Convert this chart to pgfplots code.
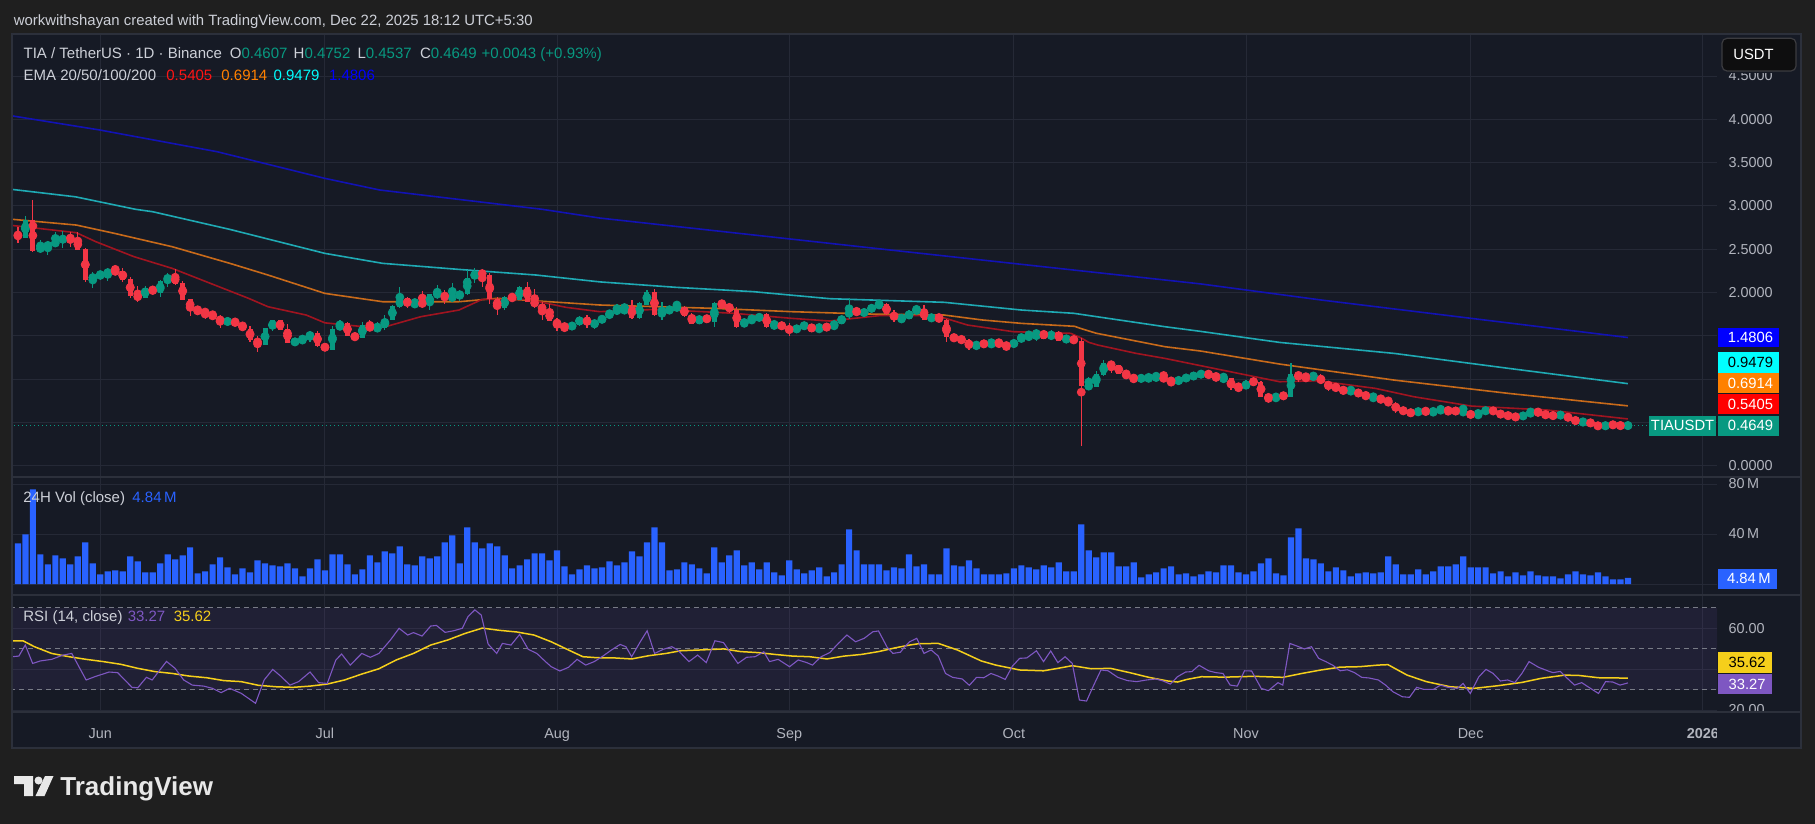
\documentclass[border=0pt]{standalone}
\usepackage{pgfplots}
\pgfplotsset{compat=1.18}
\usepackage{pgfplotstable}
\usepackage{fontspec}
\setmainfont{Liberation Sans}

\definecolor{outerbg}{HTML}{1F1F1F}
\definecolor{panebg}{HTML}{161A25}
\definecolor{gridc}{HTML}{252936}
\definecolor{sepc}{HTML}{2C303B}
\definecolor{txt}{HTML}{CDD0D8}
\definecolor{axtxt}{HTML}{B2B5BE}
\definecolor{up}{HTML}{089981}
\definecolor{down}{HTML}{F23645}
\definecolor{emaTw}{HTML}{A01420}
\definecolor{emaFi}{HTML}{C86A1A}
\definecolor{emaHu}{HTML}{1FAAB4}
\definecolor{emaTh}{HTML}{1212B4}
\definecolor{volc}{HTML}{2962FF}
\definecolor{rsic}{HTML}{7E57C2}
\definecolor{rsima}{HTML}{F5CF1B}
\definecolor{dashc}{HTML}{787B86}
\definecolor{logoc}{HTML}{E8E8E8}
\definecolor{tvred}{HTML}{FF0000}
\definecolor{tvredtxt}{HTML}{FF1414}
\definecolor{tvorange}{HTML}{FF8000}
\definecolor{tvcyan}{HTML}{00FFFF}
\definecolor{tvblue}{HTML}{0000FF}
\definecolor{usdtbg}{HTML}{0E0E0F}
\definecolor{usdtbd}{HTML}{3C3C40}

\newcommand\axfont{\fontsize{7.2}{8.6}\selectfont}
\newcommand\lgfont{\fontsize{7.5}{9}\selectfont}
\newcommand\hdfont{\fontsize{7.45}{9}\selectfont}
\newcommand\bxfont{\fontsize{7.4}{8.6}\selectfont}

% daily candles: day (0 = 1 Jun 2025), open, high, low, close, 24h volume in millions
\pgfplotstableread{
d o h l c v
-11 2.675 2.760 2.568 2.633 32.5
-10 2.633 2.883 2.633 2.837 39.7
-9 2.837 3.068 2.471 2.479 75.7
-8 2.479 2.606 2.471 2.537 23.7
-7 2.529 2.598 2.433 2.560 15.7
-6 2.548 2.702 2.548 2.595 22.9
-5 2.583 2.710 2.518 2.652 20.5
-4 2.652 2.695 2.529 2.606 15.7
-3 2.618 2.695 2.494 2.494 22.1
-2 2.502 2.518 2.125 2.144 33.3
-1 2.144 2.233 2.056 2.202 16.5
0 2.190 2.252 2.144 2.225 7.7
1 2.213 2.283 2.136 2.248 10.1
2 2.248 2.306 2.229 2.240 10.9
3 2.248 2.279 2.125 2.144 10.1
4 2.156 2.183 1.932 1.963 22.1
5 1.971 2.075 1.894 1.932 18.1
6 1.940 2.075 1.940 2.056 9.3
7 2.048 2.063 1.998 1.998 9.3
8 1.998 2.144 1.952 2.129 16.5
9 2.125 2.225 2.067 2.202 23.7
10 2.202 2.267 2.086 2.098 19.7
11 2.113 2.133 1.913 1.913 22.9
12 1.925 1.925 1.732 1.798 29.3
13 1.813 1.836 1.740 1.790 8.5
14 1.798 1.813 1.690 1.752 10.1
15 1.752 1.779 1.709 1.709 15.7
16 1.717 1.740 1.594 1.652 21.3
17 1.652 1.717 1.613 1.682 13.3
18 1.682 1.705 1.617 1.625 7.7
19 1.636 1.659 1.571 1.571 12.5
20 1.578 1.613 1.432 1.455 9.3
21 1.463 1.498 1.317 1.397 18.9
22 1.397 1.594 1.390 1.586 16.5
23 1.578 1.682 1.559 1.682 14.9
24 1.682 1.682 1.571 1.571 14.1
25 1.578 1.636 1.421 1.421 16.5
26 1.421 1.474 1.386 1.440 12.5
27 1.428 1.498 1.428 1.474 6.1
28 1.474 1.559 1.428 1.536 12.5
29 1.532 1.559 1.374 1.386 19.7
30 1.397 1.397 1.340 1.340 10.9
31 1.340 1.613 1.340 1.578 23.7
32 1.571 1.682 1.571 1.648 23.7
33 1.648 1.655 1.501 1.501 15.7
34 1.509 1.521 1.455 1.478 7.7
35 1.478 1.659 1.471 1.625 11.7
36 1.625 1.682 1.559 1.571 22.9
37 1.571 1.655 1.548 1.605 17.3
38 1.590 1.740 1.571 1.694 26.1
39 1.682 1.856 1.682 1.844 24.5
40 1.832 2.067 1.825 1.936 30.1
41 1.936 1.952 1.817 1.844 15.7
42 1.844 1.925 1.844 1.890 14.9
43 1.890 2.017 1.856 1.856 22.1
44 1.856 1.983 1.798 1.983 20.5
45 1.963 2.083 1.925 1.998 22.1
46 1.994 2.029 1.867 1.925 33.3
47 1.925 2.106 1.921 1.959 38.9
48 1.952 2.029 1.906 1.998 16.5
49 1.983 2.260 1.975 2.167 45.3
50 2.160 2.283 2.113 2.248 33.3
51 2.248 2.271 2.067 2.190 28.5
52 2.202 2.221 1.867 1.925 32.5
53 1.925 1.952 1.744 1.825 30.1
54 1.825 1.963 1.798 1.948 22.9
55 1.952 1.983 1.913 1.925 12.5
56 1.913 2.075 1.913 2.067 14.9
57 2.067 2.125 1.886 1.894 19.7
58 1.902 2.044 1.817 1.856 24.5
59 1.867 1.890 1.682 1.779 24.5
60 1.786 1.867 1.675 1.675 18.9
61 1.682 1.705 1.559 1.613 26.9
62 1.625 1.644 1.544 1.590 14.1
63 1.590 1.655 1.571 1.636 7.7
64 1.625 1.732 1.613 1.717 11.7
65 1.717 1.740 1.594 1.625 14.9
66 1.625 1.698 1.578 1.659 12.5
67 1.652 1.740 1.644 1.729 13.3
68 1.721 1.798 1.713 1.767 18.1
69 1.760 1.867 1.760 1.821 14.9
70 1.817 1.844 1.748 1.837 17.3
71 1.837 1.914 1.694 1.710 26.1
72 1.710 1.894 1.690 1.883 22.1
73 1.856 2.029 1.856 2.010 33.3
74 2.010 2.037 1.729 1.740 45.3
75 1.740 1.894 1.683 1.779 33.3
76 1.767 1.844 1.760 1.825 10.9
77 1.817 1.902 1.810 1.837 11.7
78 1.837 1.844 1.721 1.729 17.3
79 1.740 1.767 1.637 1.637 15.7
80 1.637 1.740 1.637 1.729 12.5
81 1.729 1.740 1.656 1.664 8.5
82 1.664 1.894 1.606 1.883 29.3
83 1.883 1.914 1.806 1.860 17.3
84 1.867 1.883 1.760 1.790 22.9
85 1.798 1.829 1.594 1.606 26.9
86 1.606 1.702 1.606 1.683 14.9
87 1.675 1.721 1.675 1.690 17.3
88 1.675 1.752 1.675 1.752 11.7
89 1.752 1.760 1.594 1.602 17.3
90 1.602 1.683 1.583 1.637 9.3
91 1.637 1.652 1.583 1.594 6.9
92 1.602 1.644 1.498 1.548 18.9
93 1.548 1.613 1.548 1.613 11.7
94 1.602 1.644 1.587 1.633 8.5
95 1.633 1.637 1.548 1.548 10.9
96 1.548 1.644 1.548 1.613 13.3
97 1.613 1.625 1.579 1.587 6.1
98 1.587 1.675 1.587 1.644 9.3
99 1.637 1.740 1.637 1.729 15.7
100 1.714 1.933 1.694 1.806 43.7
101 1.806 1.829 1.737 1.748 26.9
102 1.748 1.806 1.733 1.790 15.7
103 1.783 1.860 1.775 1.852 15.7
104 1.844 1.906 1.829 1.867 15.7
105 1.867 1.875 1.740 1.748 10.9
106 1.767 1.798 1.660 1.683 13.3
107 1.698 1.729 1.660 1.710 12.5
108 1.690 1.798 1.690 1.790 23.7
109 1.775 1.837 1.775 1.810 14.1
110 1.810 1.856 1.683 1.683 15.7
111 1.683 1.737 1.683 1.729 7.7
112 1.729 1.752 1.671 1.671 7.7
113 1.683 1.698 1.433 1.490 28.5
114 1.498 1.510 1.452 1.452 14.9
115 1.467 1.494 1.425 1.440 14.1
116 1.452 1.460 1.336 1.359 18.9
117 1.359 1.429 1.359 1.413 12.5
118 1.413 1.429 1.386 1.402 7.7
119 1.406 1.436 1.375 1.436 7.7
120 1.436 1.444 1.375 1.406 7.7
121 1.409 1.417 1.336 1.367 8.5
122 1.367 1.467 1.359 1.452 12.5
123 1.440 1.521 1.440 1.498 14.9
124 1.506 1.536 1.444 1.517 13.3
125 1.498 1.560 1.444 1.556 11.7
126 1.556 1.567 1.467 1.467 14.9
127 1.460 1.567 1.452 1.544 13.3
128 1.544 1.556 1.444 1.444 17.3
129 1.440 1.510 1.421 1.483 10.1
130 1.483 1.498 1.406 1.433 10.1
131 1.440 1.471 0.228 0.921 47.7
132 0.913 1.028 0.905 0.925 26.9
133 0.913 1.094 0.913 1.059 21.3
134 1.048 1.221 1.040 1.182 25.3
135 1.182 1.209 1.075 1.152 25.3
136 1.163 1.163 1.063 1.063 14.1
137 1.067 1.094 1.028 1.028 14.1
138 1.036 1.048 0.959 0.990 17.3
139 0.998 1.028 0.994 1.017 5.3
140 0.990 1.059 0.982 1.028 7.7
141 1.009 1.067 1.001 1.028 9.3
142 1.028 1.094 0.990 0.990 12.5
143 1.001 1.009 0.921 0.959 14.1
144 0.959 1.013 0.959 1.005 7.7
145 0.990 1.036 0.990 1.036 8.5
146 1.028 1.059 1.013 1.044 6.1
147 1.028 1.097 1.020 1.085 7.7
148 1.074 1.097 1.020 1.028 10.1
149 1.039 1.074 0.989 1.001 9.3
150 0.997 1.066 0.982 1.012 14.9
151 1.012 1.012 0.874 0.893 14.9
152 0.912 0.943 0.882 0.889 9.3
153 0.889 0.989 0.882 0.970 7.7
154 0.978 1.016 0.920 0.966 10.1
155 0.970 0.978 0.797 0.797 16.5
156 0.805 0.828 0.728 0.774 20.5
157 0.774 0.828 0.739 0.816 8.5
158 0.816 0.828 0.789 0.797 6.9
159 0.797 1.189 0.797 1.058 37.3
160 1.058 1.097 0.970 1.028 44.5
161 1.047 1.058 0.970 1.009 20.5
162 1.009 1.085 0.989 1.047 19.7
163 1.035 1.058 0.943 0.951 16.5
164 0.951 0.982 0.866 0.912 10.1
165 0.920 0.951 0.866 0.882 13.3
166 0.893 0.905 0.843 0.843 10.9
167 0.855 0.893 0.855 0.866 6.1
168 0.862 0.874 0.808 0.816 8.5
169 0.828 0.851 0.774 0.785 9.3
170 0.778 0.828 0.766 0.789 8.5
171 0.789 0.797 0.735 0.758 9.3
172 0.766 0.797 0.701 0.701 22.1
173 0.712 0.735 0.612 0.643 15.7
174 0.655 0.662 0.612 0.612 7.7
175 0.620 0.627 0.600 0.600 7.7
176 0.600 0.655 0.597 0.643 11.7
177 0.643 0.643 0.608 0.620 7.7
178 0.624 0.632 0.604 0.632 10.1
179 0.624 0.681 0.624 0.658 14.1
180 0.655 0.655 0.604 0.624 14.1
181 0.635 0.662 0.604 0.627 15.7
182 0.612 0.700 0.612 0.627 22.1
183 0.631 0.631 0.554 0.554 13.3
184 0.554 0.655 0.554 0.620 13.3
185 0.612 0.662 0.612 0.655 13.3
186 0.655 0.655 0.612 0.612 8.5
187 0.624 0.631 0.566 0.566 10.1
188 0.585 0.585 0.570 0.574 6.1
189 0.585 0.585 0.539 0.547 9.3
190 0.554 0.597 0.554 0.597 6.9
191 0.585 0.658 0.585 0.627 10.1
192 0.631 0.643 0.600 0.600 6.9
193 0.608 0.608 0.566 0.577 6.1
194 0.589 0.604 0.558 0.566 6.1
195 0.581 0.589 0.581 0.589 4.5
196 0.585 0.585 0.535 0.535 7.7
197 0.543 0.558 0.489 0.497 10.1
198 0.504 0.512 0.493 0.512 7.7
199 0.516 0.527 0.466 0.470 6.9
200 0.481 0.489 0.435 0.439 9.3
201 0.439 0.489 0.439 0.481 6.1
202 0.481 0.481 0.462 0.466 3.7
203 0.481 0.481 0.443 0.450 3.7
204 0.4607 0.4752 0.4537 0.4649 4.84
}\daily

% EMA lines
\pgfplotstableread{
d v
-11.8 2.775
-3.2 2.691
-0.6 2.587
4.5 2.414
9.6 2.279
14.7 2.106
19.8 1.933
22.4 1.836
27.5 1.740
30.0 1.650
35.2 1.605
38.2 1.608
42.8 1.721
47.9 1.798
51.0 1.921
57.1 1.921
62.2 1.829
66.7 1.779
74.4 1.806
84.6 1.760
92.3 1.702
97.4 1.671
104.0 1.733
111.7 1.733
115.8 1.625
121.9 1.548
129.6 1.529
131.0 1.475
132.0 1.425
133.2 1.394
138.3 1.298
142.2 1.239
149.8 1.105
157.5 0.970
162.6 0.981
170.3 0.893
175.4 0.797
183.1 0.689
193.3 0.643
204.0 0.5405
}\emaTwenty

\pgfplotstableread{
d v
-11.8 2.846
-3.2 2.779
1.9 2.683
9.6 2.529
17.3 2.337
22.4 2.202
30.0 1.990
37.7 1.894
47.9 1.894
53.0 1.933
66.7 1.856
82.1 1.817
92.3 1.779
102.5 1.752
112.7 1.740
117.8 1.683
123.0 1.644
130.1 1.610
131.0 1.583
133.0 1.530
142.2 1.374
146.9 1.325
157.5 1.174
172.8 0.989
188.1 0.835
204.0 0.6914
}\emaFifty

\pgfplotstableread{
d v
-11.8 3.191
-3.3 3.105
4.7 2.961
7.0 2.933
17.3 2.729
30.0 2.452
37.7 2.337
47.9 2.267
58.2 2.202
66.7 2.123
76.9 2.060
87.2 2.010
97.4 1.929
112.7 1.887
123.0 1.798
130.0 1.760
142.2 1.605
146.9 1.552
157.5 1.424
172.8 1.297
188.1 1.124
204.0 0.9479
}\emaHundred

\pgfplotstableread{
d v
-11.8 4.040
-0.1 3.877
15.6 3.626
30.0 3.318
37.3 3.184
59.0 2.961
66.7 2.860
105.6 2.490
146.9 2.100
163.1 1.913
204.0 1.4806
}\emaTwoHundred

% RSI(14) and its moving average
\pgfplotstableread{
d v
-11.8 46.1
-10.87 46.4
-10.02 51.8
-9.03 42.8
-8.03 44.0
-6.50 44.8
-4.96 46.9
-3.81 47.7
-1.89 34.7
-0.74 36.3
1.17 38.6
2.32 38.3
4.24 31.1
5.01 30.9
6.16 36.0
6.93 34.7
8.84 43.8
9.99 40.4
11.14 34.7
12.29 32.2
13.83 31.7
14.98 30.6
16.13 28.5
17.28 30.6
18.81 28.2
20.73 23.3
21.88 34.7
23.03 39.9
24.18 36.3
25.33 32.2
26.48 33.9
28.01 38.6
29.16 33.4
30.31 33.0
31.46 44.5
32.23 47.4
33.38 42.0
34.92 47.7
36.06 45.8
37.21 47.7
38.75 54.3
39.90 60.0
41.05 56.7
41.82 57.9
42.97 56.2
44.12 61.1
44.89 61.4
46.04 58.0
47.19 58.8
48.34 60.0
49.10 65.7
50.02 69.0
50.87 66.5
51.79 52.3
52.94 47.7
53.70 52.6
54.85 51.8
56.00 57.0
57.15 49.7
58.30 47.7
59.45 43.7
60.22 41.2
61.37 39.1
62.52 40.9
63.67 44.8
64.82 42.0
65.97 43.7
67.12 46.4
68.27 49.4
69.42 52.1
70.19 51.0
70.96 46.1
72.11 53.4
73.03 58.8
74.02 47.7
75.17 49.7
76.32 51.0
77.09 49.4
78.62 43.7
79.77 46.9
80.92 43.2
82.08 53.9
83.23 53.0
85.15 42.8
86.30 45.8
87.45 46.1
88.60 48.5
89.37 43.7
90.52 44.8
92.05 41.2
93.20 44.5
94.35 43.2
95.11 42.0
96.26 46.1
97.41 48.1
98.56 52.6
99.71 56.7
100.86 53.4
102.01 55.1
103.17 58.3
103.93 58.7
105.08 50.7
105.85 47.7
106.85 48.3
107.44 51.0
108.08 53.4
109.03 55.1
110.00 47.7
110.95 49.4
111.91 46.4
112.87 37.9
113.82 36.0
115.10 35.2
116.06 32.1
117.02 36.0
117.98 35.8
118.94 37.9
119.89 36.6
120.85 35.0
121.81 41.5
122.77 45.3
123.73 45.5
125.01 49.0
125.96 43.7
126.92 48.9
127.88 43.2
128.84 46.1
129.80 42.8
130.75 24.9
131.71 24.4
132.67 32.2
133.63 39.6
134.59 39.2
135.87 36.0
137.15 34.4
138.42 33.9
139.70 34.7
140.98 35.2
141.94 34.2
142.90 32.7
143.85 36.3
144.94 38.6
145.77 38.8
146.73 41.9
148.01 39.2
148.97 38.3
149.92 37.9
150.88 32.2
151.84 31.7
152.80 39.2
153.75 39.1
155.03 30.6
155.99 29.5
157.27 33.4
157.91 32.2
158.86 52.6
159.82 51.3
160.78 49.9
161.74 51.0
162.70 45.3
163.65 43.7
164.61 41.9
165.57 39.2
166.53 39.7
167.49 38.3
168.45 36.0
169.40 35.7
170.68 34.7
171.64 32.2
172.60 29.0
173.88 26.5
174.83 26.2
175.79 31.1
176.75 30.1
178.03 30.1
178.99 32.2
179.95 31.1
181.22 30.6
181.99 33.0
182.95 28.1
184.10 36.3
185.05 39.9
186.01 37.9
186.97 34.2
187.93 34.7
188.89 33.4
189.84 37.9
190.80 43.7
192.08 40.9
193.36 39.1
194.00 38.3
194.96 38.9
195.91 35.5
196.87 32.2
197.83 33.4
198.79 31.1
200.07 28.1
201.02 33.9
201.98 33.7
202.94 32.2
204.00 33.27
}\rsiLine

\pgfplotstableread{
d v
-11.8 53.9
-10.33 53.9
-8.80 51.0
-6.50 47.7
-4.19 46.1
-1.89 44.8
0.41 43.7
2.71 42.4
5.01 40.4
7.31 38.8
9.61 37.9
11.91 36.6
14.21 35.8
16.51 34.4
18.81 33.9
21.11 32.1
23.41 31.4
25.71 31.1
28.01 31.7
30.31 32.7
32.61 34.7
34.92 37.6
37.21 40.2
39.52 44.5
41.82 47.7
44.12 51.8
46.42 54.3
48.72 57.5
51.02 60.1
53.32 59.0
55.62 58.2
57.92 56.7
60.22 53.4
62.52 49.4
64.44 46.1
66.36 45.6
68.66 45.5
70.96 45.0
73.26 46.6
75.56 47.7
77.48 49.0
80.16 49.4
83.23 49.9
85.53 48.6
87.83 48.1
90.13 47.2
92.43 46.4
94.73 46.1
97.03 45.0
99.33 46.4
101.63 47.2
103.93 48.6
106.24 50.5
108.08 51.8
109.36 52.5
111.91 52.6
114.46 49.4
117.66 44.0
119.57 42.0
122.77 39.6
125.96 39.2
127.88 40.4
129.80 41.7
132.35 40.2
134.91 40.4
137.46 38.3
140.02 36.0
142.57 34.2
143.85 33.7
145.13 35.0
147.05 36.3
150.24 36.1
154.07 36.5
157.91 36.0
160.46 37.9
163.02 39.6
165.57 41.0
168.13 41.2
170.68 42.0
171.96 42.2
174.51 37.1
177.07 33.9
180.26 31.4
183.46 30.6
186.65 31.9
189.84 33.5
192.40 35.5
195.59 37.1
197.51 36.9
200.07 35.8
204.00 35.62
}\rsiMA

\pgfplotsset{
  tvpane/.style={
    scale only axis, width=852.5pt, anchor=north west,
    xmin=-11.79, xmax=215.9,
    axis line style={draw=none},
    tick style={draw=none},
    xtick={0,30,61,92,122,153,183,214},
    xticklabels={},
    grid=major,
    major grid style={draw=gridc, line width=0.5pt},
    yticklabel pos=right,
    yticklabel style={anchor=west, inner sep=0pt, xshift=5.6pt, font=\axfont, text=axtxt},
  },
  wick/.style={only marks, mark=none, forget plot,
    error bars/.cd, y dir=both, y explicit, error mark=none,
    error bar style={line width=0.6pt, #1}},
  body/.style={only marks, mark=none, forget plot,
    error bars/.cd, y dir=both, y explicit, error mark=none,
    error bar style={line width=2.5pt, #1}},
}
\tikzset{
  lg/.style={anchor=base west, inner sep=0pt, font=\lgfont, text=txt},
  bx/.style={anchor=east, inner sep=0pt, font=\bxfont},
}

\begin{document}
\begin{tikzpicture}
\begin{scope}[x=0.5pt,y=-0.5pt]
  \path[use as bounding box] (0,0) rectangle (1815,824);
  \fill[outerbg] (0,0) rectangle (1815,824);
  \fill[panebg] (12,34) rectangle (1801,748);
  \coordinate (pricepane) at (12,34);
  \coordinate (volpane) at (12,477);
  \coordinate (rsipane) at (12,595);
\end{scope}

% price pane (labels under the value badges are left empty, as they are hidden there)
\begin{axis}[tvpane, at={(pricepane)}, height=221.5pt, ymin=-0.130, ymax=4.985,
  ytick={0,0.5,1,1.5,2,2.5,3,3.5,4,4.5},
  yticklabels={0.0000,,,,2.0000,2.5000,3.0000,3.5000,4.0000,4.5000}]
  \addplot[up, line width=0.5pt, dash pattern=on 0.5pt off 1.5pt, forget plot] coordinates {(-12,0.4649) (216,0.4649)};
  \addplot[emaTh, line width=0.8pt] table[x=d,y=v]{\emaTwoHundred};
  \addplot[emaHu, line width=0.8pt] table[x=d,y=v]{\emaHundred};
  \addplot[emaFi, line width=0.8pt] table[x=d,y=v]{\emaFifty};
  \addplot[emaTw, line width=0.8pt] table[x=d,y=v]{\emaTwenty};
  % candles: wicks then bodies, split by direction
  \addplot[up, restrict expr to domain={\thisrow{c}-\thisrow{o}}{0:10}, wick=up]
    table[x=d, y expr={(\thisrow{h}+\thisrow{l})/2}, y error expr={(\thisrow{h}-\thisrow{l})/2}]{\daily};
  \addplot[down, restrict expr to domain={\thisrow{c}-\thisrow{o}}{-10:-0.00001}, wick=down]
    table[x=d, y expr={(\thisrow{h}+\thisrow{l})/2}, y error expr={(\thisrow{h}-\thisrow{l})/2}]{\daily};
  \addplot[up, restrict expr to domain={\thisrow{c}-\thisrow{o}}{0:10}, body=up]
    table[x=d, y expr={(\thisrow{o}+\thisrow{c})/2}, y error expr={max(abs(\thisrow{c}-\thisrow{o})/2,0.004)}]{\daily};
  \addplot[down, restrict expr to domain={\thisrow{c}-\thisrow{o}}{-10:-0.00001}, body=down]
    table[x=d, y expr={(\thisrow{o}+\thisrow{c})/2}, y error expr={max(abs(\thisrow{c}-\thisrow{o})/2,0.004)}]{\daily};
\end{axis}

% volume pane
\begin{axis}[tvpane, at={(volpane)}, height=59pt, ymin=-8.8, ymax=85.6,
  ytick={0,40,80}, yticklabels={,40\,M,80\,M}]
  \addplot[ybar, bar width=3.1pt, bar shift=0pt, fill=volc, draw=none] table[x=d,y=v]{\daily};
\end{axis}

% RSI pane
\begin{axis}[tvpane, at={(rsipane)}, height=58.5pt, ymin=19.03, ymax=76.3,
  ytick={20,40,60}, yticklabels={20.00,,60.00},
  xticklabels={Jun,Jul,Aug,Sep,Oct,Nov,Dec,\textbf{2026}},
  xticklabel style={anchor=base, inner sep=0pt, yshift=-13.3pt, font=\axfont, text=axtxt}]
  \addplot[draw=none, fill=rsic, fill opacity=0.1] coordinates {(-12,30) (216,30) (216,70) (-12,70)};
  \addplot[dashc, line width=0.5pt, dash pattern=on 2.5pt off 2pt] coordinates {(-12,70) (216,70)};
  \addplot[dashc, line width=0.5pt, dash pattern=on 2.5pt off 2pt] coordinates {(-12,50) (216,50)};
  \addplot[dashc, line width=0.5pt, dash pattern=on 2.5pt off 2pt] coordinates {(-12,30) (216,30)};
  \addplot[rsima, line width=0.75pt] table[x=d,y=v]{\rsiMA};
  \addplot[rsic, line width=0.55pt] table[x=d,y=v]{\rsiLine};
\end{axis}

\begin{scope}[x=0.5pt,y=-0.5pt]
  \fill[panebg] (1717,712.5) rectangle (1800.6,747.6);
  \fill[panebg] (1718,34.6) rectangle (1800.6,73.5);
  \draw[sepc, line width=0.6pt] (12,477) -- (1801,477) (12,595) -- (1801,595) (12,712) -- (1801,712);
  \draw[sepc, line width=0.8pt] (12,34) rectangle (1801,748);

  % header
  \node[anchor=base west, inner sep=0pt, text=txt, font=\hdfont] at (13.4,25.5)
    {workwithshayan created with TradingView.com, Dec 22, 2025 18:12 UTC+5:30};

  % legends
  \node[lg] at (23.2,58.9) {TIA / TetherUS · 1D · Binance};
  \node[lg] at (229.5,58.9) {O\textcolor{up}{0.4607}};
  \node[lg] at (293.3,58.9) {H\textcolor{up}{0.4752}};
  \node[lg] at (357.1,58.9) {L\textcolor{up}{0.4537}};
  \node[lg] at (419.6,58.9) {C\textcolor{up}{0.4649}};
  \node[lg, text=up] at (481.3,58.9) {+0.0043 (+0.93\%)};
  \node[lg] at (23.2,80.2) {EMA 20/50/100/200};
  \node[lg, text=tvredtxt] at (166,80.2) {0.5405};
  \node[lg, text=tvorange] at (221,80.2) {0.6914};
  \node[lg, text=tvcyan] at (273.2,80.2) {0.9479};
  \node[lg, text=tvblue] at (328.6,80.2) {1.4806};
  \node[lg] at (23,502.7) {24H Vol (close)};
  \node[lg, text=volc] at (132,502.7) {4.84\,M};
  \node[lg] at (23,621) {RSI (14, close)};
  \node[lg, text=rsic] at (127.4,621) {33.27};
  \node[lg, text=rsima] at (173.4,621) {35.62};

  % price scale badges
  \draw[fill=usdtbg, draw=usdtbd, line width=0.6pt, rounded corners=2.5pt]
    (1722,38.3) rectangle (1796,71);
  \node[anchor=west, inner sep=0pt, text=white, font=\bxfont] at (1733,54.7) {USDT};
  \fill[tvblue] (1718,328) rectangle (1779,347.3);
  \node[bx, text=white] at (1773.5,337.7) {1.4806};
  \fill[tvcyan] (1718,352.3) rectangle (1779,373);
  \node[bx, text=black] at (1773.5,362.7) {0.9479};
  \fill[tvorange] (1718,373.3) rectangle (1779,393.3);
  \node[bx, text=white] at (1773.5,383.3) {0.6914};
  \fill[tvred] (1718,394.3) rectangle (1779,414.3);
  \node[bx, text=white] at (1773.5,404.3) {0.5405};
  \fill[up] (1649.3,415.7) rectangle (1716,435.7);
  \node[anchor=center, inner sep=0pt, text=white, font=\bxfont] at (1682.6,425.7) {TIAUSDT};
  \fill[up] (1718,415.7) rectangle (1779,435.7);
  \node[bx, text=white] at (1773.5,425.7) {0.4649};
  \fill[volc] (1718,568.7) rectangle (1776.7,588.7);
  \node[bx, text=white] at (1771,578.7) {4.84\,M};
  \fill[rsima] (1718,652.3) rectangle (1772,672.7);
  \node[bx, text=black] at (1766,662.5) {35.62};
  \fill[rsic] (1718,674) rectangle (1772,694.3);
  \node[bx, text=white] at (1766,684.2) {33.27};

  % TradingView mark
  \fill[logoc] (14,776) -- (33,776) -- (33,796) -- (24,796) -- (24,784) -- (14,784) -- cycle;
  \fill[logoc] (38.5,780.5) circle[radius=2pt];
  \fill[logoc] (45,776) -- (53.5,776) -- (44.5,796) -- (35.5,796) -- cycle;
  \node[anchor=base west, inner sep=0pt, text=logoc, font=\fontsize{13}{15}\selectfont\bfseries] at (60,795) {TradingView};
\end{scope}
\end{tikzpicture}
\end{document}
